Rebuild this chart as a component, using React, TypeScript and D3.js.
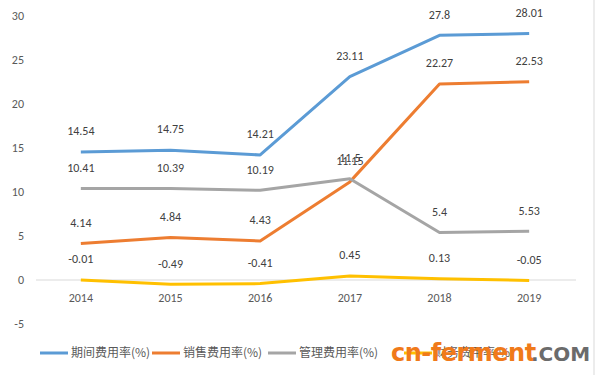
import React from "react";
import * as d3 from "d3";

const years = ["2014", "2015", "2016", "2017", "2018", "2019"];
const seriesNames = ["期间费用率(%)", "销售费用率(%)", "管理费用率(%)", "财务费用率(%)"];
const periodRate = [14.54, 14.75, 14.21, 23.11, 27.8, 28.01];
const salesRate = [4.14, 4.84, 4.43, 11.15, 22.27, 22.53];
const adminRate = [10.41, 10.39, 10.19, 11.5, 5.4, 5.53];
const financeRate = [-0.01, -0.49, -0.41, 0.45, 0.13, -0.05];
const yTicks = [-5, 0, 5, 10, 15, 20, 25, 30];
const colors = ["#5B9BD5", "#ED7D31", "#A5A5A5", "#FFC000"];

const W = 597, H = 375;

export default function App() {
  const x = d3.scaleBand().domain(years).range([36, 574]);
  const y = d3.scaleLinear().domain([-5, 30]).range([324, 16]);
  const all = [periodRate, salesRate, adminRate, financeRate];
  const line = d3.line<number>().x((_, i) => x(years[i])! + x.bandwidth() / 2).y((d) => y(d));
  const font = "Calibri, 'Liberation Sans', 'Noto Sans CJK SC', sans-serif";
  const legendX = [40, 152, 268, 404];
  const labelFor = (v: number) => String(v);
  return (
    <svg width={W} height={H} style={{ position: "absolute", left: 0, top: 0, background: "#fff" }} fontFamily={font}>
      <rect width={W} height={H} fill="#fff" />
      {yTicks.map((t) => (
        <text key={t} x={24} y={y(t)} dy="0.35em" textAnchor="end" fontSize={12} fill="#595959">{t}</text>
      ))}
      <line x1={36} x2={576} y1={y(0)} y2={y(0)} stroke="#D9D9D9" strokeWidth={1} />
      {years.map((yr) => (
        <text key={yr} x={x(yr)! + x.bandwidth() / 2} y={298} dy="0.35em" textAnchor="middle" fontSize={12} fill="#595959">{yr}</text>
      ))}
      {all.map((s, si) => (
        <path key={si} d={line(s)!} fill="none" stroke={colors[si]} strokeWidth={3} strokeLinejoin="round" />
      ))}
      {all.map((s, si) =>
        s.map((v, i) => (
          <text key={si + "-" + i} x={x(years[i])! + x.bandwidth() / 2} y={y(v) - 21} dy="0.35em" textAnchor="middle" fontSize={12} fill="#404040">{labelFor(v)}</text>
        ))
      )}
      {seriesNames.map((n, i) => (
        <g key={n}>
          <line x1={legendX[i]} x2={legendX[i] + 28} y1={353} y2={353} stroke={colors[i]} strokeWidth={3} />
          <text x={legendX[i] + 31} y={353} dy="0.35em" fontSize={12} fill="#595959" fontFamily="'Noto Sans CJK SC', sans-serif">{n}</text>
        </g>
      ))}
      <text x={391} y={361} fontSize={24} fontWeight="bold" fill="#F07A1A" fontFamily="'DejaVu Sans', sans-serif" letterSpacing={-0.5}>cn-ferment</text>
      <text x={531} y={361} fontSize={20} fontWeight="bold" fill="#6B6B6B" fontFamily="'DejaVu Sans', sans-serif">.COM</text>
      <line x1={594} x2={594} y1={0} y2={H} stroke="#D9D9D9" strokeWidth={1} />
    </svg>
  );
}
